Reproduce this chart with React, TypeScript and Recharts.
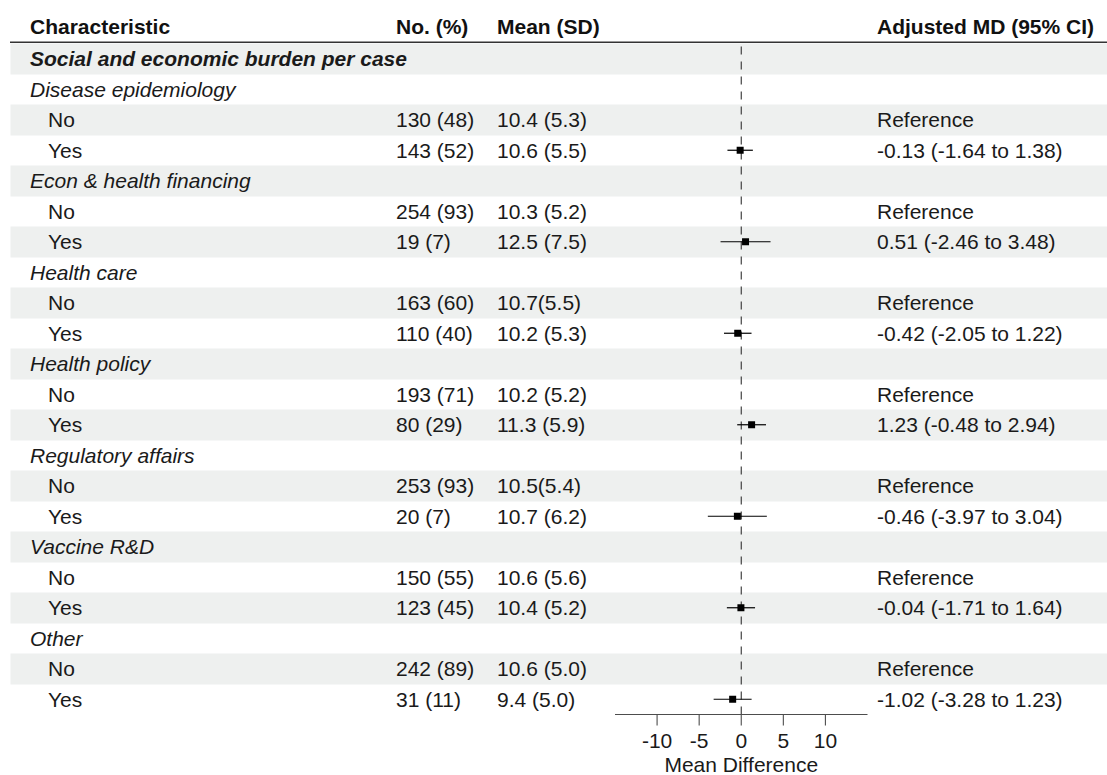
import React from "react";
import {
  ComposedChart,
  Bar,
  Scatter,
  ErrorBar,
  XAxis,
  YAxis,
  ReferenceLine,
} from "recharts";

const W = 1107;
const H = 775;
const FONT = '"Liberation Sans", Arial, Helvetica, sans-serif';
const INK = "#1a1a1a";
const STRIPE = "#eef0ef";
const FS = 21;

// table rows, top to bottom
const labels = [
  "Social and economic burden per case",
  "Disease epidemiology",
  "No",
  "Yes",
  "Econ & health financing",
  "No",
  "Yes",
  "Health care",
  "No",
  "Yes",
  "Health policy",
  "No",
  "Yes",
  "Regulatory affairs",
  "No",
  "Yes",
  "Vaccine R&D",
  "No",
  "Yes",
  "Other",
  "No",
  "Yes",
];

// 0 = section, 1 = characteristic, 2 = level
const depth = [0, 1, 2, 2, 1, 2, 2, 1, 2, 2, 1, 2, 2, 1, 2, 2, 1, 2, 2, 1, 2, 2];

const counts = [
  "", "",
  "130 (48)", "143 (52)", "",
  "254 (93)", "19 (7)", "",
  "163 (60)", "110 (40)", "",
  "193 (71)", "80 (29)", "",
  "253 (93)", "20 (7)", "",
  "150 (55)", "123 (45)", "",
  "242 (89)", "31 (11)",
];

const meanSd = [
  "", "",
  "10.4 (5.3)", "10.6 (5.5)", "",
  "10.3 (5.2)", "12.5 (7.5)", "",
  "10.7(5.5)", "10.2 (5.3)", "",
  "10.2 (5.2)", "11.3 (5.9)", "",
  "10.5(5.4)", "10.7 (6.2)", "",
  "10.6 (5.6)", "10.4 (5.2)", "",
  "10.6 (5.0)", "9.4 (5.0)",
];

// adjusted mean difference and 95% CI (null = reference level / no estimate)
const md: (number | null)[] = [
  null, null, null, -0.13, null, null, 0.51, null, null, -0.42, null,
  null, 1.23, null, null, -0.46, null, null, -0.04, null, null, -1.02,
];
const mdLow: (number | null)[] = [
  null, null, null, -1.64, null, null, -2.46, null, null, -2.05, null,
  null, -0.48, null, null, -3.97, null, null, -1.71, null, null, -3.28,
];
const mdHigh: (number | null)[] = [
  null, null, null, 1.38, null, null, 3.48, null, null, 1.22, null,
  null, 2.94, null, null, 3.04, null, null, 1.64, null, null, 1.23,
];

const headers = ["Characteristic", "No. (%)", "Mean (SD)", "Adjusted MD (95% CI)"];
const xTicks = [-10, -5, 0, 5, 10];
const xDomain: [number, number] = [-15, 15];

const colX = [30, 396, 497, 877];
const indentX = 48;

const fmt = (v: number) => v.toFixed(2);

const rows = labels.map((label, i) => {
  const est = md[i];
  const lo = mdLow[i];
  const hi = mdHigh[i];
  const has = est != null && lo != null && hi != null;
  return {
    key: String(i),
    label,
    depth: depth[i],
    n: counts[i],
    mean: meanSd[i],
    md: has ? est : null,
    ci: has ? [est! - lo!, hi! - est!] : undefined,
    result:
      depth[i] !== 2 ? "" : has ? `${fmt(est!)} (${fmt(lo!)} to ${fmt(hi!)})` : "Reference",
    stripe: i % 2 === 0 ? 1 : null,
  };
});

const txt = {
  fontFamily: FONT,
  fontSize: FS,
  fill: INK,
  dominantBaseline: "central" as const,
};

// table text for one row, drawn at the row's band centre
function RowText(props: any) {
  const { y, payload } = props;
  const r = rows[Number(payload?.value)];
  if (!r) return null;
  return (
    <g>
      <text
        {...txt}
        x={r.depth === 2 ? indentX : colX[0]}
        y={y}
        fontStyle={r.depth < 2 ? "italic" : "normal"}
        fontWeight={r.depth === 0 ? 700 : 400}
      >
        {r.label}
      </text>
      {r.n && (
        <text {...txt} x={colX[1]} y={y}>
          {r.n}
        </text>
      )}
      {r.mean && (
        <text {...txt} x={colX[2]} y={y}>
          {r.mean}
        </text>
      )}
      {r.result && (
        <text {...txt} x={colX[3]} y={y}>
          {r.result}
        </text>
      )}
    </g>
  );
}

function Square(props: any) {
  const { cx, cy, payload } = props;
  if (payload?.md == null || !Number.isFinite(cx) || !Number.isFinite(cy)) return <g />;
  return <rect x={cx - 3.5} y={cy - 3.5} width={7} height={7} fill="#000" />;
}

const top = 43.5;
const axisH = 60.5;
const rowH = (H - top - axisH) / labels.length;

export default function App() {
  return (
    <div
      style={{
        position: "absolute",
        left: 0,
        top: 0,
        width: W,
        height: H,
        background: "#fff",
        fontFamily: FONT,
      }}
    >
      {/* striped table */}
      <div style={{ position: "absolute", left: 0, top: 0 }}>
        <ComposedChart
          layout="vertical"
          width={W}
          height={H}
          data={rows}
          barCategoryGap={0}
          margin={{ top, right: 0, bottom: axisH, left: 9.5 }}
        >
          <XAxis type="number" domain={[0, 1]} hide />
          <YAxis
            type="category"
            dataKey="key"
            width={1}
            axisLine={false}
            tickLine={false}
            interval={0}
            tick={<RowText />}
          />
          <Bar dataKey="stripe" fill={STRIPE} isAnimationActive={false} />
          {headers.map((h, i) => (
            <text
              key={h}
              x={colX[i]}
              y={26.5}
              fontFamily={FONT}
              fontSize={FS}
              fontWeight={700}
              fill="#111"
              dominantBaseline="central"
            >
              {h}
            </text>
          ))}
          <line x1={10} x2={W} y1={42.3} y2={42.3} stroke="#333" strokeWidth={1.4} />
        </ComposedChart>
      </div>

      {/* forest plot */}
      <div style={{ position: "absolute", left: 0, top: 0 }}>
        <ComposedChart
          layout="vertical"
          width={W}
          height={H}
          data={rows}
          margin={{ top, right: 239.5, bottom: 0, left: 615 }}
        >
          <XAxis
            type="number"
            dataKey="md"
            domain={xDomain}
            ticks={xTicks}
            interval={0}
            height={axisH}
            tickSize={11}
            tickMargin={8}
            axisLine={{ stroke: "#4d4d4d", strokeWidth: 1.1 }}
            tickLine={{ stroke: "#4d4d4d", strokeWidth: 1.1 }}
            tick={{ fill: INK, fontSize: FS, fontFamily: FONT }}
            label={{
              value: "Mean Difference",
              position: "insideBottom",
              offset: 3,
              fill: INK,
              fontSize: FS,
              fontFamily: FONT,
            }}
          />
          <YAxis
            type="category"
            dataKey="key"
            hide
            padding={{ top: rowH / 2, bottom: rowH / 2 }}
          />
          <ReferenceLine x={0} stroke="#333" strokeWidth={1.1} strokeDasharray="8 7" />
          <Scatter dataKey="md" shape={<Square />} isAnimationActive={false}>
            <ErrorBar dataKey="ci" direction="x" width={0} stroke="#000" strokeWidth={1.2} />
          </Scatter>
        </ComposedChart>
      </div>
    </div>
  );
}
